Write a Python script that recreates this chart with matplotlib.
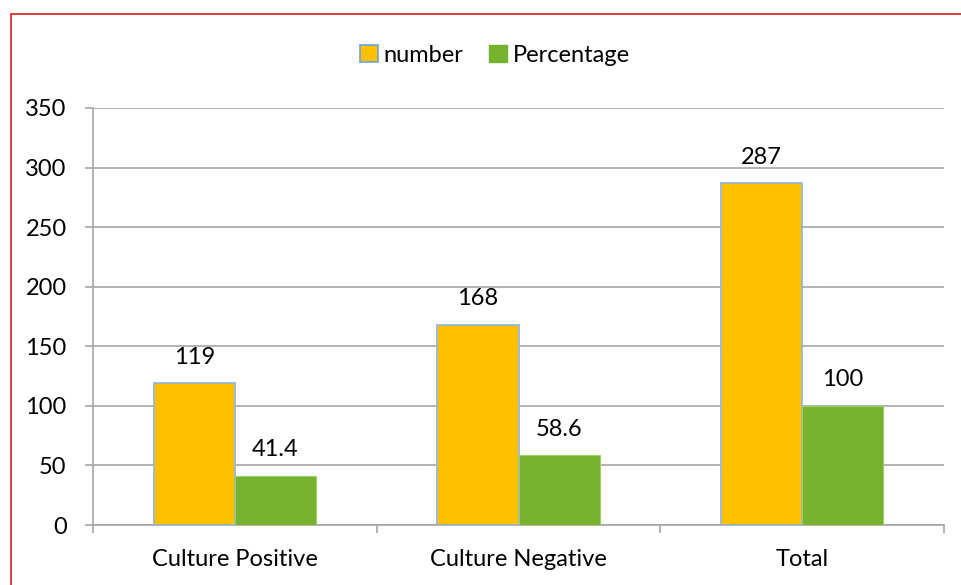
import matplotlib
matplotlib.use("Agg")
import matplotlib.pyplot as plt
import matplotlib.patches as mpatches
import numpy as np

categories = ["Culture Positive", "Culture Negative", "Total"]
number = [119, 168, 287]
percentage = [41.4, 58.6, 100]
yticks = [0, 50, 100, 150, 200, 250, 300, 350]

plt.rcParams['font.family'] = ['Lato', 'DejaVu Sans']

W, H = 961, 585
fig = plt.figure(figsize=(W / 100, H / 100), dpi=100)
ax = fig.add_axes([93 / W, 1 - 525 / H, (944 - 93) / W, (525 - 108) / H])

# outer red frame (right and bottom edges run past the canvas)
fig.patches.append(mpatches.Rectangle((11 / W, -0.05), 1.2, 1 - 14 / H + 0.05,
                                      transform=fig.transFigure, fill=False,
                                      edgecolor="#D9302F", linewidth=1.3))

x = np.arange(len(categories))
bw = 1 / 3.5
yellow = "#FFC000"
green = "#77B22F"
grid_c = "#A6A6A6"

b1 = ax.bar(x - bw / 2, number, bw, color=yellow, edgecolor="#8DB3E2",
            linewidth=1.2, zorder=3, label="number")
b2 = ax.bar(x + bw / 2, percentage, bw, color=green, edgecolor="#9BD163",
            linewidth=0.8, zorder=3, label="Percentage")

fs = 17
for bars, vals in ((b1, number), (b2, percentage)):
    for r, v in zip(bars, vals):
        ax.annotate(f"{v:g}", (r.get_x() + r.get_width() / 2, v),
                    xytext=(0, 14), textcoords="offset points",
                    ha="center", va="baseline", fontsize=fs, color="#000000")

ax.set_xlim(-0.5, len(categories) - 0.5)
ax.set_ylim(0, 350)
ax.set_yticks(yticks)
ax.set_yticklabels([str(t) for t in yticks], fontsize=fs)
ax.set_xticks(x)
ax.set_xticklabels(categories, fontsize=fs)
ax.set_xticks(np.arange(len(categories) + 1) - 0.5, minor=True)
ax.tick_params(axis="x", which="major", length=0, pad=17)
ax.tick_params(axis="x", which="minor", length=6, color=grid_c, width=1.2)
ax.tick_params(axis="y", length=6, color=grid_c, width=1.2, pad=13)

ax.yaxis.grid(True, color=grid_c, linewidth=1.2, zorder=0)
ax.set_axisbelow(True)
for s in ("top", "right"):
    ax.spines[s].set_visible(False)
for s in ("left", "bottom"):
    ax.spines[s].set_color(grid_c)
    ax.spines[s].set_linewidth(1.2)

handles = [mpatches.Patch(facecolor=yellow, edgecolor="#6FA0DC", linewidth=1.2, label="number"),
           mpatches.Patch(facecolor=green, edgecolor=green, label="Percentage")]
fig.legend(handles=handles, loc="center", bbox_to_anchor=(495 / W, 1 - 55 / H),
           ncol=2, frameon=False, fontsize=fs, handlelength=0.75, handleheight=0.75,
           handletextpad=0.25, columnspacing=1.1)

fig.savefig("out.png", dpi=100)
